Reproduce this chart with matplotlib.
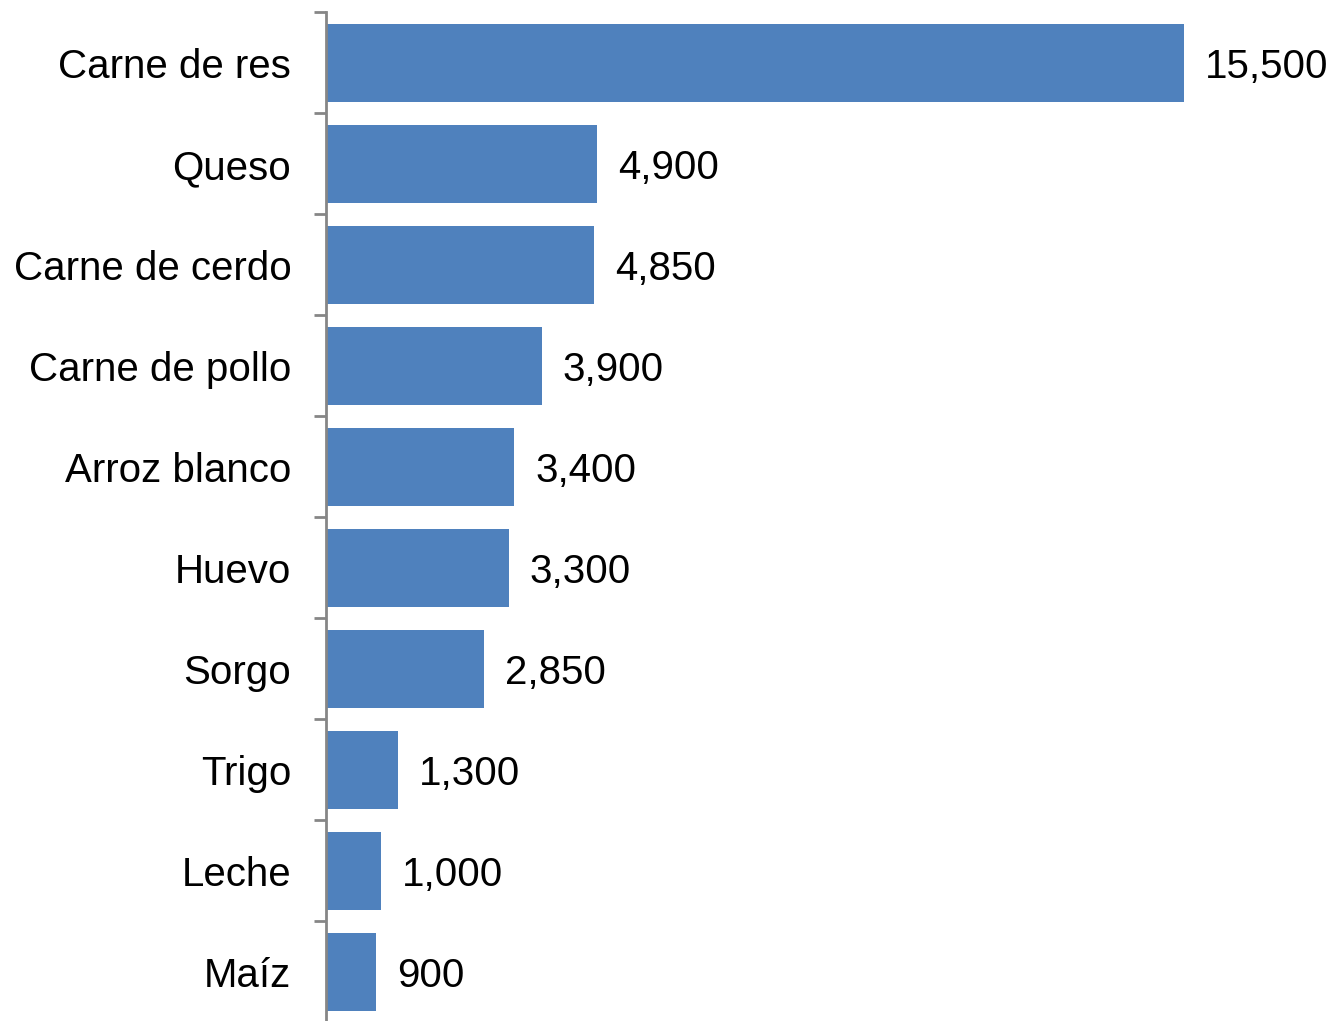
import matplotlib.pyplot as plt
import numpy as np

plt.rcParams['font.family'] = ['Liberation Sans', 'DejaVu Sans']

categories = ['Carne de res', 'Queso', 'Carne de cerdo', 'Carne de pollo',
              'Arroz blanco', 'Huevo', 'Sorgo', 'Trigo', 'Leche', 'Maíz']
values = [15500, 4900, 4850, 3900, 3400, 3300, 2850, 1300, 1000, 900]

bar_color = '#4F81BD'
axis_color = '#868686'
fontsize = 29

W, H = 1332, 1021
fig = plt.figure(figsize=(W / 100, H / 100), dpi=100)
ax = fig.add_axes([326 / W, -1.5 / H, 1 - 326 / W, 1010 / H])

n = len(categories)
y = np.arange(n)
ax.barh(y, values, height=0.78, color=bar_color)
ax.set_ylim(n - 0.5, -0.5)
ax.set_xlim(0, 18175)

for yi, v in zip(y, values):
    ax.annotate(f'{v:,}', xy=(v, yi), xytext=(15, -3), textcoords='offset points',
                va='center', ha='left', fontsize=fontsize)

ax.set_yticks(y)
ax.set_yticklabels(categories, fontsize=fontsize)
ax.tick_params(axis='y', which='major', length=0, pad=25)
ax.set_yticks(np.arange(n + 1) - 0.5, minor=True)
ax.tick_params(axis='y', which='minor', length=8.5, width=2, color=axis_color)
ax.set_xticks([])

for s in ['top', 'right', 'bottom']:
    ax.spines[s].set_visible(False)
ax.spines['left'].set_color(axis_color)
ax.spines['left'].set_linewidth(2)

fig.savefig('out.png', dpi=100)
